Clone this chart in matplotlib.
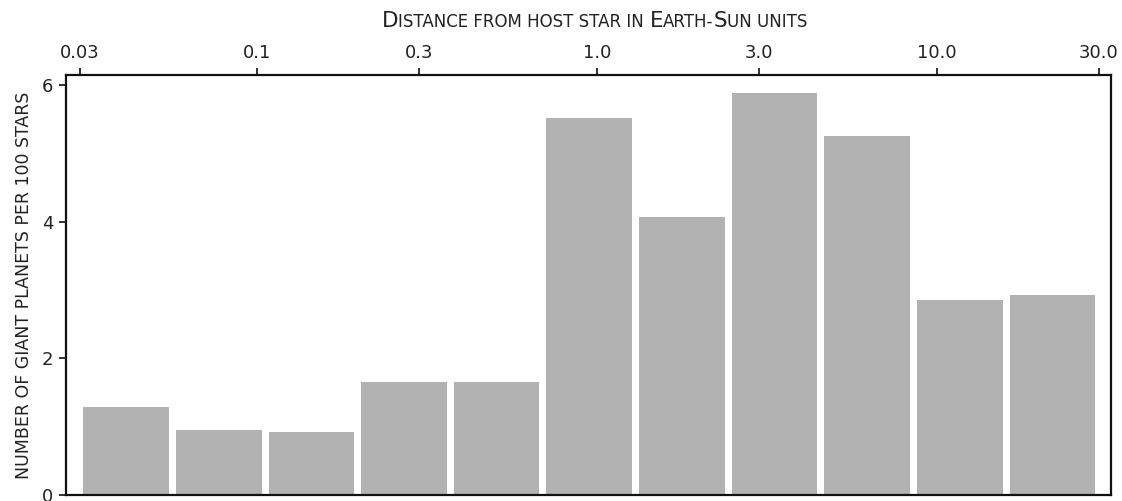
import numpy as np
import matplotlib
matplotlib.use("Agg")
import matplotlib.pyplot as plt

plt.rcParams["font.family"] = ["DejaVu Sans"]

# 11 distance bins (Earth-Sun units), log-spaced from 0.03 to 30
bin_edges = [0.03, 0.0562, 0.1054, 0.1974, 0.3700, 0.6934,
             1.2995, 2.4353, 4.5638, 8.5527, 16.028, 30.0]
planets_per_100 = [1.29, 0.947, 0.918, 1.649, 1.654, 5.52,
                   4.073, 5.879, 5.254, 2.849, 2.931]
xtick_values = [0.03, 0.1, 0.3, 1.0, 3.0, 10.0, 30.0]
xtick_labels = ["0.03", "0.1", "0.3", "1.0", "3.0", "10.0", "30.0"]
ytick_values = [0, 2, 4, 6]

bar_color = "#b2b2b2"
gap = 1.0245  # visual gap between neighbouring bins (log factor)


def small_caps(fig, x, y, s, big=13, small=10):
    # draw s in small caps: real capitals large, lowercase as small capitals
    runs = []
    for ch in s:
        size = small if (ch.islower() or not ch.isalpha()) else big
        if runs and runs[-1][1] == size:
            runs[-1][0] += ch
        else:
            runs.append([ch, size])
    last = None
    for txt, size in runs:
        if last is None:
            last = fig.text(x, y, txt.upper(), fontsize=size, ha="left",
                            va="bottom", color="#222222")
        else:
            last = plt.annotate(txt.upper(), xy=(1, 0), xycoords=last, fontsize=size,
                                ha="left", va="bottom", annotation_clip=False,
                                color="#222222")


fig = plt.figure(figsize=(11.22, 5.01), dpi=100)
ax = fig.add_axes([0.0586, 0.012, 0.9313, 0.8383])

lefts = np.array(bin_edges[:-1]) * gap
rights = np.array(bin_edges[1:]) / gap
ax.bar(lefts, planets_per_100, width=rights - lefts, align="edge",
       color=bar_color, edgecolor="none")

ax.set_xscale("log")
ax.set_xlim(0.02728, 32.57)
ax.set_ylim(0, 6.146)

ax.xaxis.tick_top()
ax.set_xticks(xtick_values)
ax.set_xticklabels(xtick_labels)
ax.xaxis.set_minor_locator(matplotlib.ticker.NullLocator())
ax.set_yticks(ytick_values)
ax.tick_params(axis="both", direction="out", length=5, width=1.3,
               labelsize=13, pad=4, colors="#222222")

for sp in ax.spines.values():
    sp.set_linewidth(1.6)
    sp.set_color("#111111")

ax.set_ylabel("NUMBER OF GIANT PLANETS PER 100 STARS", fontsize=12.5,
              color="#222222", labelpad=6)

small_caps(fig, 382 / 1122, 1 - 31 / 501, "Distance from host star in Earth-Sun units",
           big=15.5, small=12)

fig.savefig("out.png", dpi=100)
